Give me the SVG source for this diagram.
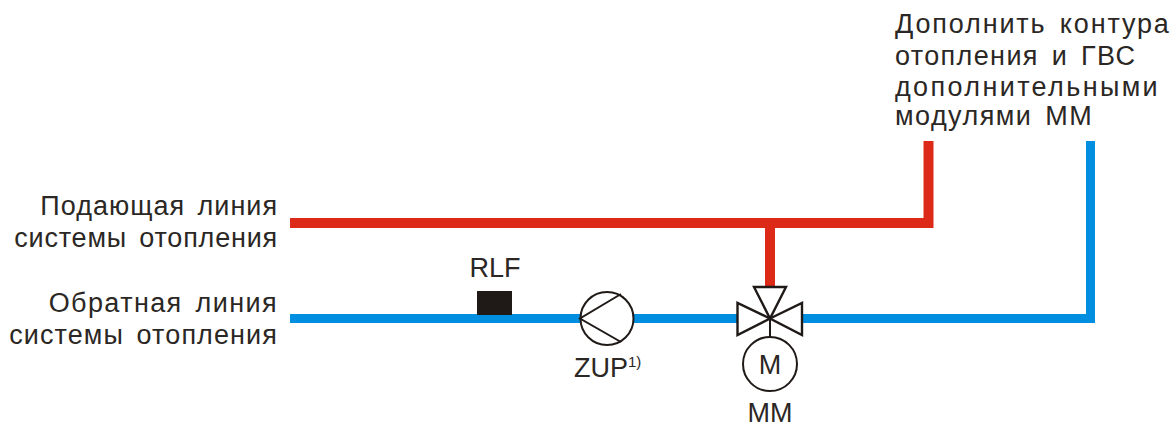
<svg xmlns="http://www.w3.org/2000/svg" width="1176" height="423" viewBox="0 0 1176 423">
<style>
text{font-family:"Liberation Sans",Arial,sans-serif;font-size:27px;fill:#2b2724}
.l{word-spacing:4px}
.s{fill:none;stroke:#1f1a17;stroke-width:2}
.v{fill:#fff;stroke:#1f1a17;stroke-width:2.4;stroke-linejoin:miter}
.r{fill:none;stroke:#dd2a18;stroke-width:10}
.b{fill:none;stroke:#008fe0;stroke-width:9}
</style>
<rect width="1176" height="423" fill="#fff"/>
<g id="connectors">
<path class="r" d="M290 223H928.500V141"/>
<path class="r" d="M770 228V287"/>
<path class="b" d="M290 318.500H580"/>
<path class="b" d="M634 318.500H737"/>
<path class="b" d="M802 318.500H1090.500V141"/>
</g>
<g id="rlf"><rect x="478" y="292" width="33" height="22" fill="#1f1a17" stroke="#1f1a17" stroke-width="2"/><text x="495" y="277" text-anchor="middle">RLF</text></g>
<g id="zup"><circle cx="607" cy="318.500" r="26.500" fill="#fff" stroke="#1f1a17" stroke-width="2"/><path class="s" d="M621 294L580 318.500L621 342"/><text x="574" y="377">ZUP</text><text x="628" y="367" style="font-size:15px">1)</text></g>
<g id="valve"><path class="v" d="M770 318.500L754 287H786Z"/><path class="v" d="M770 318.500L737.500 303V335Z"/><path class="v" d="M770 318.500L802 303V335Z"/><path class="s" d="M770 318.500V338"/></g>
<g id="mm"><circle cx="770" cy="364" r="27" fill="#fff" stroke="#1f1a17" stroke-width="2"/><text x="770" y="374" text-anchor="middle">M</text><text x="770" y="422" text-anchor="middle">MM</text></g>
<g id="labels">
<text class="l" x="278" y="215" text-anchor="end" letter-spacing="1">Подающая линия</text>
<text class="l" x="278" y="247" text-anchor="end" letter-spacing="0.8">системы отопления</text>
<text class="l" x="278" y="312" text-anchor="end" letter-spacing="1.4">Обратная линия</text>
<text class="l" x="278" y="344" text-anchor="end" letter-spacing="1.1">системы отопления</text>
<text class="l" x="895" y="33" letter-spacing="1.85">Дополнить контура</text>
<text class="l" x="895" y="65" letter-spacing="1.37">отопления и ГВС</text>
<text class="l" x="895" y="96" letter-spacing="2.37">дополнительными</text>
<text class="l" x="895" y="125" letter-spacing="1.45">модулями ММ</text>
</g>
</svg>
